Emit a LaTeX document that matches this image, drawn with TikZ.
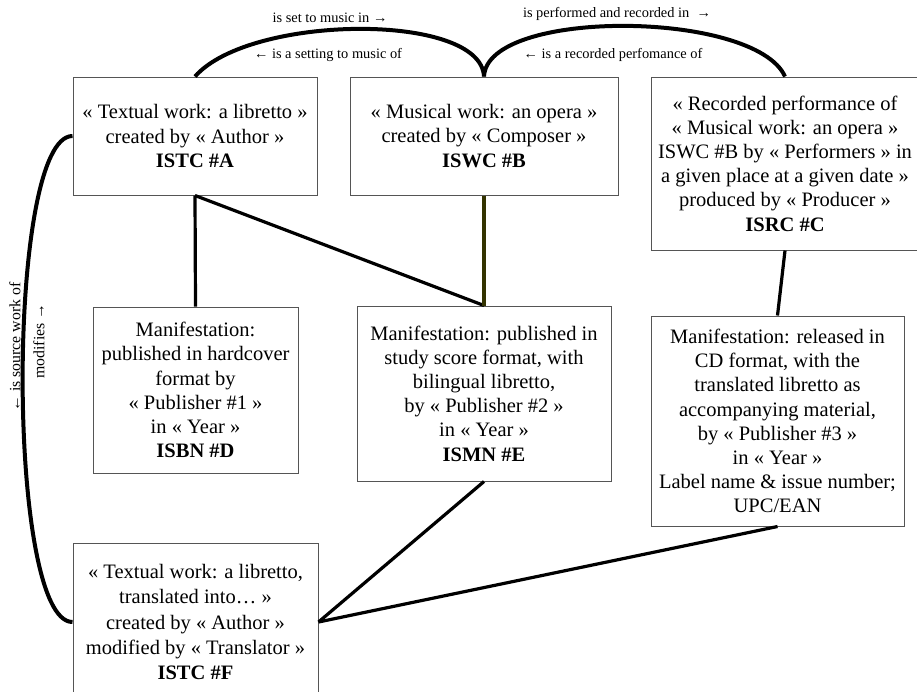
\documentclass[tikz,border=0pt]{standalone}
\usepackage{fontspec}
\setmainfont{Liberation Serif}
\usetikzlibrary{calc}
\definecolor{boxline}{RGB}{85,85,85}
\definecolor{olive}{RGB}{51,51,0}
\begin{document}
\begin{tikzpicture}[x=1pt,y=-1pt,
  box/.style={draw=boxline,line width=1pt,rectangle,inner sep=0pt,align=center,
    font=\fontsize{20.5}{24.2}\selectfont},
  lbl/.style={inner sep=0pt,font=\fontsize{14.4}{16}\selectfont},
  vlbl/.style={inner sep=0pt,rotate=90,font=\fontsize{15.8}{17}\selectfont},
  link/.style={line width=3.2pt,black},
  rel/.style={line width=4pt,black}]
\useasboundingbox (0,0) rectangle (917,691);

% works, expressions and manifestations
\node[box,minimum width=244pt,minimum height=118pt] (A) at (195,136)
  {« Textual work: a libretto »\\created by « Author »\\\textbf{ISTC \#A}};
\node[box,minimum width=268pt,minimum height=118pt] (B) at (484,136)
  {« Musical work: an opera »\\created by « Composer »\\\textbf{ISWC \#B}};
\node[box,minimum width=268pt,minimum height=173pt] (C) at (785,163.5)
  {« Recorded performance of\\« Musical work: an opera »\\ISWC \#B by « Performers » in\\a given place at a given date »\\produced by « Producer »\\\textbf{ISRC \#C}};
\node[box,minimum width=205pt,minimum height=166pt] (D) at (195.5,390)
  {Manifestation:\\published in hardcover\\format by\\« Publisher \#1 »\\in « Year »\\\textbf{ISBN \#D}};
\node[box,minimum width=254pt,minimum height=175pt] (E) at (484,393.5)
  {Manifestation: published in\\study score format, with\\bilingual libretto,\\by « Publisher \#2 »\\in « Year »\\\textbf{ISMN \#E}};
\node[box,minimum width=253pt,minimum height=210pt] (CD) at (777.5,421)
  {Manifestation: released in\\CD format, with the\\translated libretto as\\accompanying material,\\by « Publisher \#3 »\\in « Year »\\Label name \& issue number;\\UPC/EAN};
\node[box,minimum width=245pt,minimum height=158pt,
      font=\fontsize{20.5}{25.3}\selectfont] (G) at (195.5,622)
  {« Textual work: a libretto,\\translated into… »\\created by « Author »\\modified by « Translator »\\\textbf{ISTC \#F}};

% embodiment links
\draw[link] (A.south) -- (D.north);
\draw[link] (A.south) -- (E.north);
\draw[link,draw=olive] (B.south) -- (E.north);
\draw[link] (C.south) -- (CD.north);
\draw[link] (E.south) -- (G.east);
\draw[link] (CD.south) -- (G.east);

% relationships between works
\draw[rel] (A.north) .. controls (250,14) and (481,12) .. (B.north);
\draw[rel] (B.north) .. controls (487,8) and (755,10) .. (C.north);
\draw[rel] (A.west) .. controls (6,136) and (6,622) .. (G.west);

\node[lbl] (l1) at (330,18) {is set to music in →};
\node[lbl] (l2) at (328,55) {← is a setting to music of};
\node[lbl] (l3) at (617,14) {is performed and recorded in\ \ →};
\node[lbl] (l4) at (613,55) {← is a recorded perfomance of};
\node[vlbl] (l5) at (15,347) {← is source work of};
\node[vlbl] (l6) at (39,341) {modifies →};
\end{tikzpicture}
\end{document}
